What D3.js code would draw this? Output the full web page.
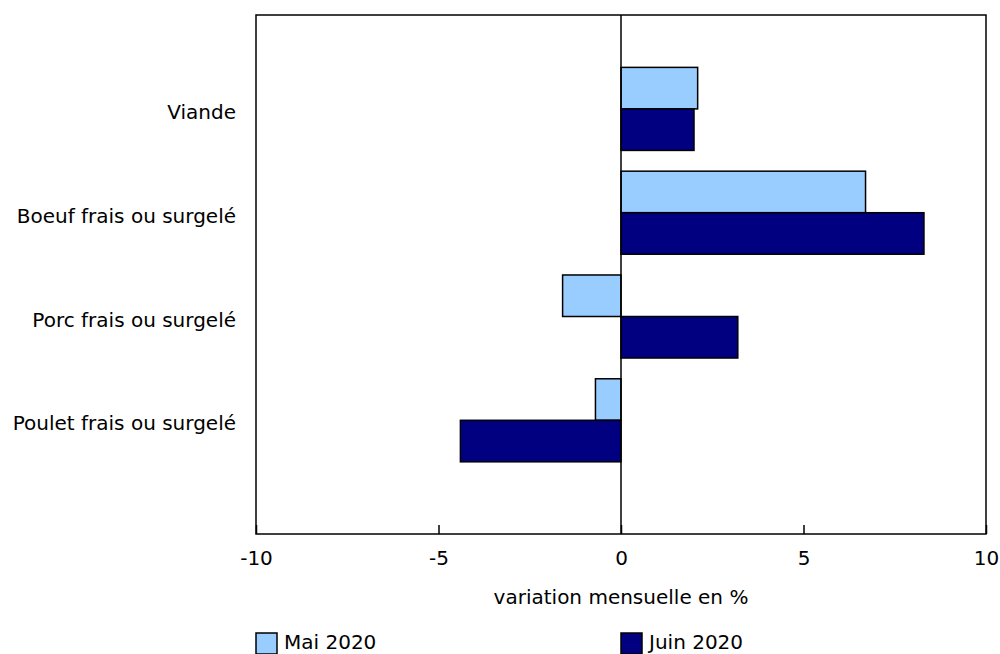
<!DOCTYPE html>
<html>
<head>
<meta charset="utf-8">
<script src="https://cdn.jsdelivr.net/npm/d3@7"></script>
<style>
  body { margin: 0; background: #fff; }
  svg text { font-family: "DejaVu Sans", Verdana, sans-serif; fill: #000; }
</style>
</head>
<body>
<div id="chart"></div>
<script>
// données
const categories = ["Viande", "Boeuf frais ou surgelé", "Porc frais ou surgelé", "Poulet frais ou surgelé"];
const seriesNames = ["Mai 2020", "Juin 2020"];
const mai2020 = [2.1, 6.7, -1.6, -0.7];
const juin2020 = [2.0, 8.3, 3.2, -4.4];
const xTicks = [-10, -5, 0, 5, 10];
const colors = ["#99ccff", "#000080"];

const width = 1000;
const height = 654;
const plot = { left: 256, right: 986, top: 15, bottom: 534 };
const fontSize = "20px";

const svg = d3.select("#chart").append("svg")
  .attr("width", width)
  .attr("height", height);

const x = d3.scaleLinear().domain([-10, 10]).range([plot.left, plot.right]);

// 4 catégories + un espace vide en bas
const y = d3.scaleBand()
  .domain(categories)
  .range([plot.top + 42, plot.top + 42 + 4 * 103.8])
  .paddingInner(0.2)
  .paddingOuter(0.1);

const ySub = d3.scaleBand()
  .domain(seriesNames)
  .range([0, y.bandwidth()]);

// cadre
svg.append("rect")
  .attr("x", plot.left)
  .attr("y", plot.top)
  .attr("width", plot.right - plot.left)
  .attr("height", plot.bottom - plot.top)
  .attr("fill", "none")
  .attr("stroke", "#000")
  .attr("stroke-width", 1.5);

// barres
const rows = categories.map((c, i) => ({ cat: c, values: [mai2020[i], juin2020[i]] }));

const groups = svg.append("g").selectAll("g")
  .data(rows)
  .enter()
  .append("g")
  .attr("transform", d => `translate(0,${y(d.cat)})`);

groups.selectAll("rect")
  .data(d => d.values.map((v, j) => ({ name: seriesNames[j], v: v, j: j })))
  .enter()
  .append("rect")
  .attr("x", d => x(Math.min(0, d.v)))
  .attr("y", d => ySub(d.name))
  .attr("width", d => Math.abs(x(d.v) - x(0)))
  .attr("height", ySub.bandwidth())
  .attr("fill", d => colors[d.j])
  .attr("stroke", "#000")
  .attr("stroke-width", 1.5);

// ligne zéro
svg.append("line")
  .attr("x1", x(0)).attr("x2", x(0))
  .attr("y1", plot.top).attr("y2", plot.bottom)
  .attr("stroke", "#000")
  .attr("stroke-width", 1.5);

// axe x
const xAxis = svg.append("g")
  .attr("transform", `translate(0,${plot.bottom})`)
  .call(d3.axisBottom(x).tickValues(xTicks).tickSize(-9).tickPadding(17).tickFormat(d3.format("d")));
xAxis.select(".domain").remove();
xAxis.selectAll("line").attr("stroke", "#000").attr("stroke-width", 1.5);
xAxis.selectAll("text")
  .attr("dy", "0.71em")
  .style("font-size", fontSize)
  .text(d => d < 0 ? "-" + Math.abs(d) : d);

// étiquettes des catégories
svg.append("g").selectAll("text")
  .data(categories)
  .enter()
  .append("text")
  .attr("x", plot.left - 20)
  .attr("y", d => y(d) + y.bandwidth() / 2 + 3)
  .attr("dy", "0.35em")
  .attr("text-anchor", "end")
  .style("font-size", fontSize)
  .text(d => d);

// titre de l'axe
svg.append("text")
  .attr("x", x(0))
  .attr("y", 604)
  .attr("text-anchor", "middle")
  .style("font-size", fontSize)
  .text("variation mensuelle en %");

// légende
const legend = svg.append("g").selectAll("g")
  .data(seriesNames)
  .enter()
  .append("g")
  .attr("transform", (d, i) => `translate(${i === 0 ? x(-10) : x(0)},633)`);

legend.append("rect")
  .attr("width", 21)
  .attr("height", 21)
  .attr("fill", (d, i) => colors[i])
  .attr("stroke", "#000")
  .attr("stroke-width", 1.5);

legend.append("text")
  .attr("x", 28)
  .attr("y", 16)
  .style("font-size", fontSize)
  .text(d => d);
</script>
</body>
</html>
